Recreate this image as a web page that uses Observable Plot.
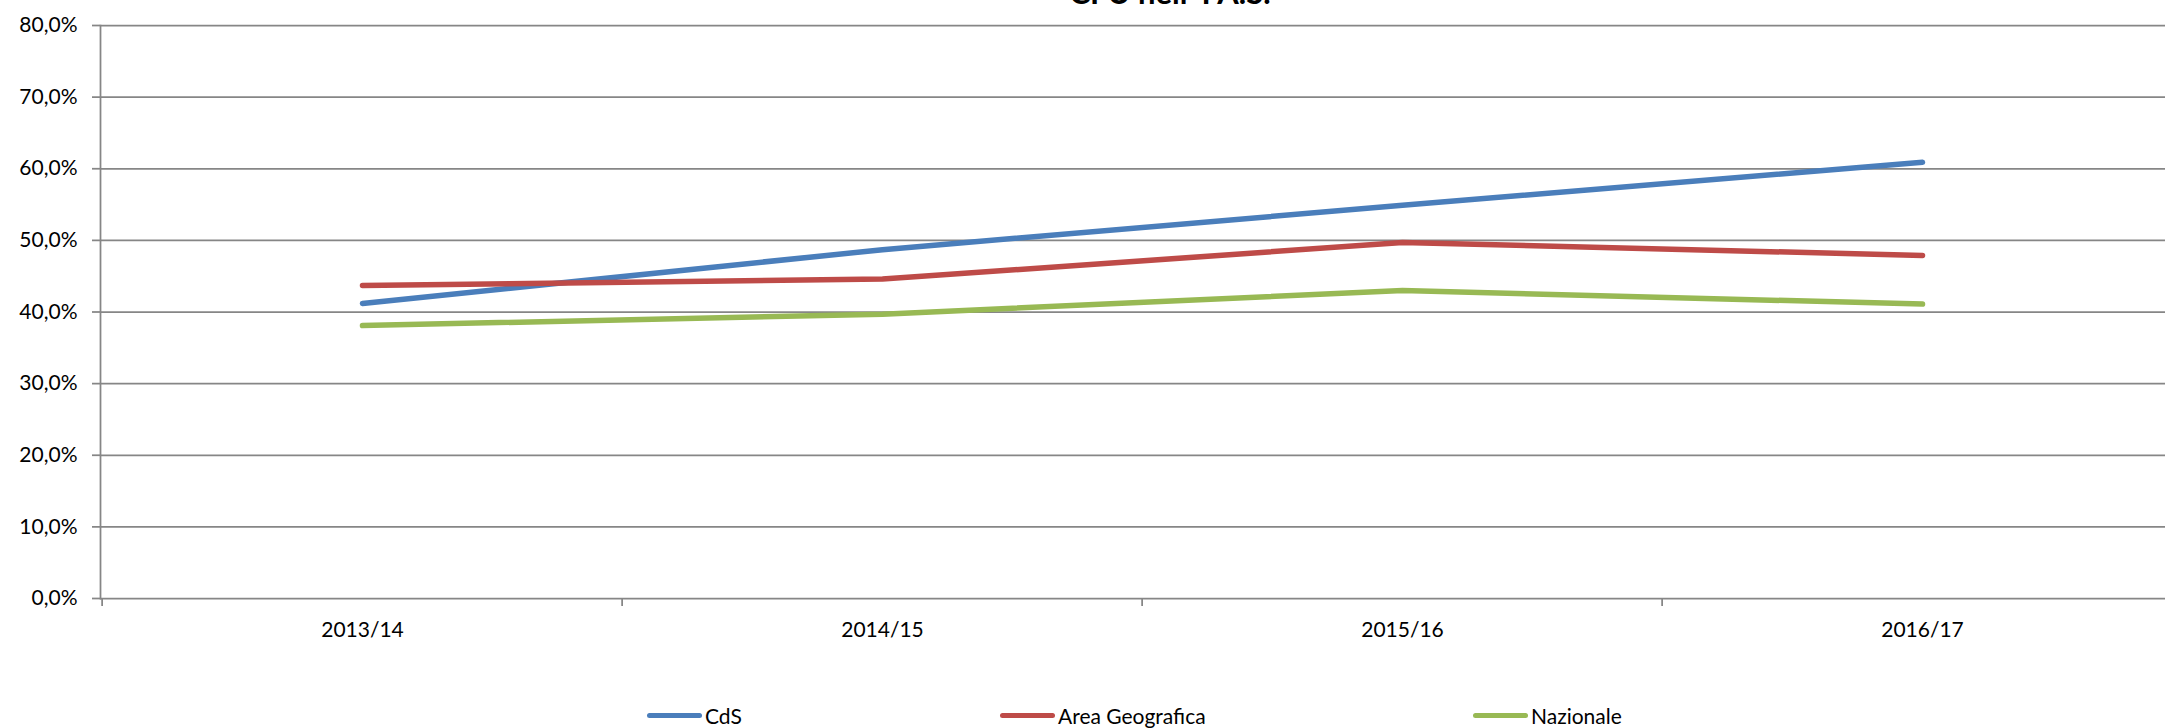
<!DOCTYPE html>
<html>
<head>
<meta charset="utf-8">
<script src="https://cdn.jsdelivr.net/npm/d3@7"></script>
<script src="https://cdn.jsdelivr.net/npm/@observablehq/plot@0.6"></script>
<style>
  html, body { margin: 0; padding: 0; background: #fff; overflow: hidden; }
  #wrap { position: relative; width: 2165px; height: 728px; overflow: hidden; font-family: Lato, "Open Sans", sans-serif; }
  #chart { position: absolute; left: 0; top: 0; }
  #chart svg { max-width: none !important; }
  #title { position: absolute; top: -23px; left: 1010px; width: 320px; text-align: center; font-weight: bold; font-size: 31px; line-height: 30px; white-space: nowrap; color: #000; }
  .leg { position: absolute; top: 704px; display: flex; align-items: center; font-size: 21px; color: #000; line-height: 23px; }
  .leg .sw { display: inline-block; width: 55px; height: 5px; border-radius: 3px; margin-right: 3px; }
</style>
</head>
<body>
<div id="wrap">
  <div id="chart"></div>
  <div id="title">CFU nell' I A.S.</div>
  <div id="legend"></div>
</div>
<script>
const years = ["2013/14", "2014/15", "2015/16", "2016/17"];
const seriesNames = ["CdS", "Area Geografica", "Nazionale"];
const cds = [41.2, 48.7, 54.9, 60.9];
const areaGeo = [43.7, 44.6, 49.7, 47.9];
const nazionale = [38.1, 39.7, 43.0, 41.1];
const yTicks = [0, 10, 20, 30, 40, 50, 60, 70, 80];
const colors = ["#4a7ebb", "#be4b48", "#98b954"];

const seriesValues = [cds, areaGeo, nazionale];
const data = [];
seriesNames.forEach((s, i) => years.forEach((y, j) => data.push({series: s, year: y, value: seriesValues[i][j]})));

const W = 2185, H = 728, mL = 100, mR = 2, mT = 25, mB = 130;
const bw = (W - mL - mR) / years.length;
const fmt = d => d.toFixed(1).replace(".", ",") + "%";

const chart = Plot.plot({
  width: W,
  height: H,
  marginLeft: mL,
  marginRight: mR,
  marginTop: mT,
  marginBottom: mB,
  style: {fontFamily: "Lato, 'Open Sans', sans-serif", fontSize: "21px", color: "#000", background: "#fff", maxWidth: "none"},
  x: {type: "band", domain: years, padding: 0, label: null},
  y: {domain: [0, 80], label: null},
  color: {domain: seriesNames, range: colors},
  marks: [
    Plot.gridY(yTicks, {stroke: "#868686", strokeOpacity: 1, strokeWidth: 1.75}),
    Plot.frame({anchor: "left", stroke: "#868686", strokeWidth: 1.75}),
    Plot.axisY({ticks: yTicks, tickFormat: fmt, tickSize: 8, tickPadding: 15, stroke: "#868686", strokeWidth: 1.75, fill: "#000", label: null}),
    Plot.axisX({tickSize: 8, tickFormat: () => "", dx: -bw / 2, stroke: "#868686", strokeWidth: 1.75, label: null}),
    Plot.axisX({tickSize: 0, tickPadding: 24, fill: "#000", label: null}),
    Plot.line(data, {x: "year", y: "value", z: "series", stroke: "series", strokeWidth: 5.5, strokeLinecap: "round", strokeLinejoin: "round"})
  ]
});
chart.style.maxWidth = "none";
chart.style.width = W + "px";
chart.style.height = H + "px";
document.getElementById("chart").appendChild(chart);

const legendX = [647, 1000, 1473];
const legend = document.getElementById("legend");
seriesNames.forEach((s, i) => {
  const item = document.createElement("div");
  item.className = "leg";
  item.style.left = legendX[i] + "px";
  const sw = document.createElement("span");
  sw.className = "sw";
  sw.style.background = colors[i];
  const t = document.createElement("span");
  t.textContent = s;
  item.appendChild(sw);
  item.appendChild(t);
  legend.appendChild(item);
});
</script>
</body>
</html>
